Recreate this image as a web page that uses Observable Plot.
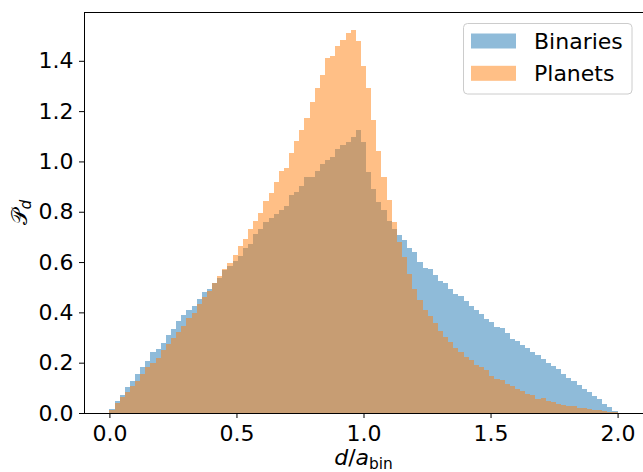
<!DOCTYPE html>
<html><head><meta charset="utf-8">
<script src="https://cdn.jsdelivr.net/npm/d3@7"></script>
<script src="https://cdn.jsdelivr.net/npm/@observablehq/plot@0.6"></script>
<style>body{margin:0;background:#fff} svg{display:block}</style>
</head><body><div id="chart"></div>
<script>
// 99 bins between 0 and 2 (np.linspace(0, 2, 100) edges)
const binEdges = d3.range(100).map(i => 2 * i / 99);

const binaries = [
0.017,0.046,0.073,0.102,0.127,0.154,0.183,0.208,0.242,0.256,
0.280,0.309,0.332,0.366,0.389,0.409,0.425,0.454,0.480,0.491,
0.515,0.537,0.568,0.584,0.603,0.626,0.656,0.673,0.711,0.732,
0.759,0.775,0.792,0.805,0.824,0.865,0.878,0.902,0.937,0.938,
0.963,0.990,1.005,1.018,1.051,1.064,1.078,1.097,1.124,1.079,
0.958,0.889,0.840,0.807,0.764,0.730,0.707,0.687,0.654,0.638,
0.601,0.575,0.571,0.547,0.524,0.517,0.491,0.475,0.466,0.446,
0.424,0.408,0.395,0.373,0.360,0.343,0.338,0.318,0.296,0.288,
0.272,0.259,0.242,0.232,0.215,0.200,0.186,0.173,0.157,0.141,
0.127,0.113,0.097,0.085,0.066,0.054,0.037,0.024,0.008];

const planets = [
0.013,0.038,0.062,0.082,0.109,0.129,0.157,0.182,0.199,0.220,
0.249,0.276,0.297,0.322,0.344,0.378,0.398,0.433,0.462,0.486,
0.518,0.546,0.572,0.598,0.630,0.663,0.690,0.732,0.762,0.796,
0.843,0.873,0.918,0.962,0.975,1.034,1.081,1.123,1.173,1.237,
1.292,1.344,1.412,1.420,1.458,1.482,1.511,1.521,1.478,1.379,
1.292,1.165,1.040,0.938,0.847,0.759,0.681,0.621,0.553,0.491,
0.451,0.409,0.386,0.358,0.325,0.302,0.282,0.260,0.243,0.223,
0.212,0.190,0.183,0.170,0.146,0.135,0.130,0.114,0.107,0.097,
0.088,0.077,0.072,0.054,0.060,0.046,0.042,0.037,0.031,0.029,
0.029,0.021,0.019,0.017,0.013,0.011,0.008,0.005,0.003];

const seriesNames = ["Binaries", "Planets"];
const seriesColors = ["#1f77b4", "#ff7f0e"];
const xTicks = [0, 0.5, 1.0, 1.5, 2.0];
const yTicks = [0, 0.2, 0.4, 0.6, 0.8, 1.0, 1.2, 1.4];

const toBins = vals => vals.map((v, i) => ({x1: binEdges[i], x2: binEdges[i + 1], y: v}));

const W = 643, H = 472, mL = 84, mR = 0, mT = 12, mB = 59;

const chart = Plot.plot({
  width: W, height: H,
  marginLeft: mL, marginRight: mR, marginTop: mT, marginBottom: mB,
  style: {fontFamily: "DejaVu Sans", fontSize: "22px", color: "#000", background: "#fff"},
  x: {domain: [-0.1, 2.1]},
  y: {domain: [0, 1.594]},
  marks: [
    Plot.rectY(toBins(binaries), {x1: "x1", x2: "x2", y: "y", fill: seriesColors[0], fillOpacity: 0.5, inset: 0, shapeRendering: "crispEdges"}),
    Plot.rectY(toBins(planets), {x1: "x1", x2: "x2", y: "y", fill: seriesColors[1], fillOpacity: 0.5, inset: 0, shapeRendering: "crispEdges"}),
    Plot.frame({stroke: "#000", strokeWidth: 1}),
    Plot.axisX({ticks: xTicks, tickFormat: d => d.toFixed(1), tickSize: 5, tickPadding: 7, label: null, fontSize: 22}),
    Plot.axisY({ticks: yTicks, tickFormat: d => d.toFixed(1), tickSize: 5, tickPadding: 6, label: null, fontSize: 22})
  ]
});
document.getElementById("chart").append(chart);

const svg = d3.select(chart);
// x label: d/a_bin
const xl = svg.append("text")
  .attr("x", (mL + W - mR) / 2).attr("y", 465)
  .attr("text-anchor", "middle")
  .style("font-family", "DejaVu Sans").style("font-size", "22px").attr("fill", "#000");
xl.append("tspan").attr("font-style", "italic").text("d");
xl.append("tspan").text("/");
xl.append("tspan").attr("font-style", "italic").text("a");
xl.append("tspan").attr("font-size", "15.4px").attr("dy", 4).text("bin");

// y label: P_d
const yl = svg.append("text")
  .attr("transform", `translate(27,${(mT + H - mB) / 2}) rotate(-90)`)
  .attr("text-anchor", "middle")
  .style("font-family", "DejaVu Sans").style("font-size", "22px").attr("fill", "#000");
yl.append("tspan").text("𝒫");
yl.append("tspan").attr("font-style", "italic").attr("font-size", "15.4px").attr("dy", 4).text("d");

// legend
const lg = svg.append("g");
lg.append("rect").attr("x", 463.5).attr("y", 23.5).attr("width", 168.5).attr("height", 70.5)
  .attr("rx", 4).attr("fill", "#fff").attr("fill-opacity", 0.8).attr("stroke", "#cccccc");
seriesNames.forEach((name, i) => {
  const cy = 41 + i * 32.3;
  lg.append("rect").attr("x", 471).attr("y", cy - 7.5).attr("width", 45).attr("height", 15)
    .attr("fill", seriesColors[i]).attr("fill-opacity", 0.5);
  lg.append("text").attr("x", 534).attr("y", cy + 8).attr("text-anchor", "start")
    .style("font-family", "DejaVu Sans").style("font-size", "22px").attr("fill", "#000").text(name);
});
</script>
</body></html>
